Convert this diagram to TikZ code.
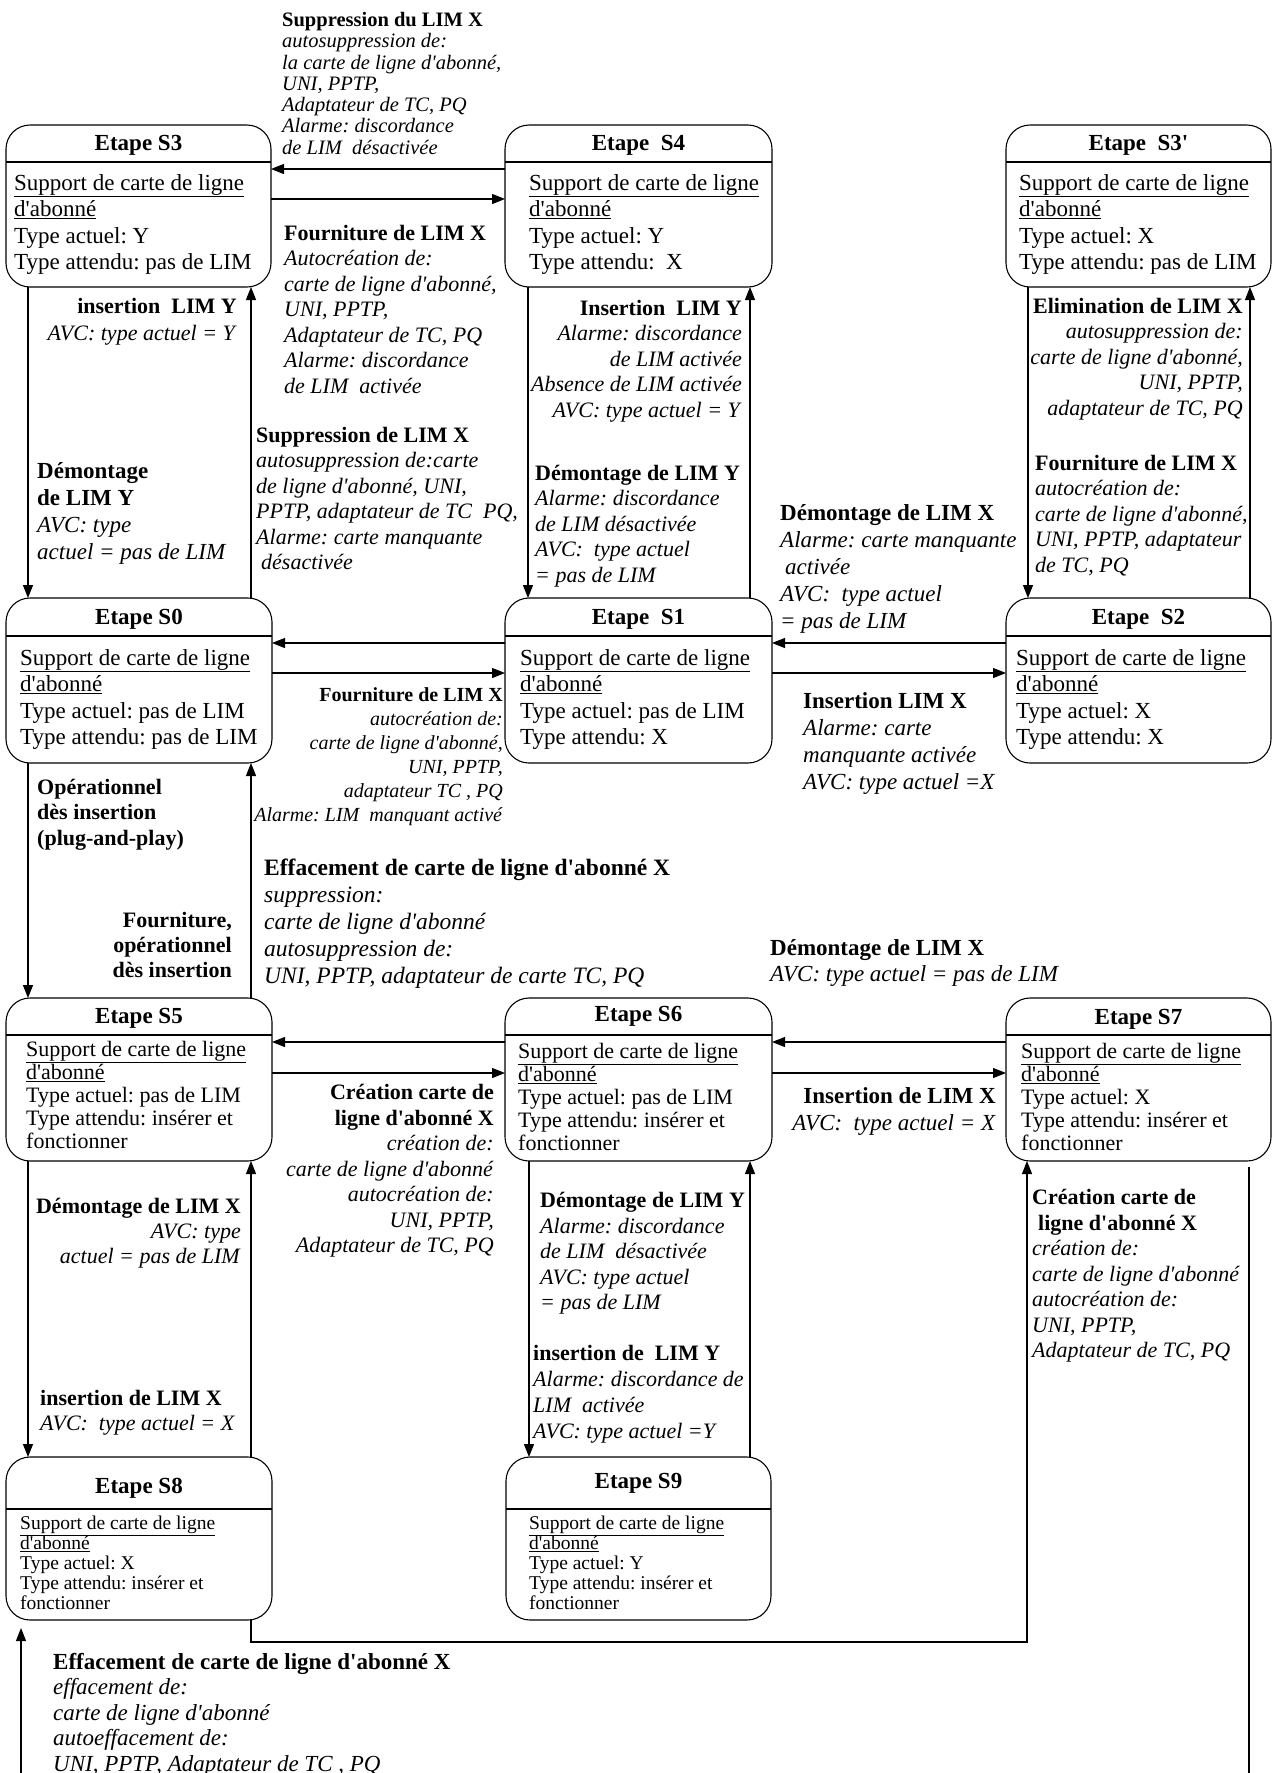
\documentclass[tikz,border=0pt]{standalone}
\usepackage{fontspec}
\setmainfont{Liberation Serif}[Ligatures=TeXOff]
\usetikzlibrary{arrows.meta}
\frenchspacing

\tikzset{
  statebox/.style={draw, line width=1.1pt, rounded corners=24pt, inner sep=0pt, outer sep=0pt, anchor=north west},
  head/.style={font=\fontsize{23}{26}\selectfont\bfseries, inner sep=0pt},
  body/.style={font=\fontsize{23}{26.5}\selectfont, align=left, anchor=north west, inner sep=0pt},
  bodymid/.style={body, font=\fontsize{22}{23}\selectfont},
  bodysmall/.style={body, font=\fontsize{19.5}{20}\selectfont},
  lbl/.style={inner sep=0pt, font=\fontsize{22}{25.5}\selectfont},
  lblL/.style={lbl, align=left, anchor=north west},
  lblR/.style={lbl, align=right, anchor=north east},
  arr/.style={-{Triangle[length=13pt,width=10pt]}, line width=1.1pt},
  wire/.style={line width=1.1pt},
}
\newcommand{\carte}{\underline{Support de carte de ligne}\\\underline{d'abonné}}

\begin{document}
\begin{tikzpicture}[x=1pt, y=-1pt]
\fill[white] (0,0) rectangle (1273,1773);
\useasboundingbox (0,0) rectangle (1273,1773);

% ---------- states ----------
\node[statebox, minimum width=265pt, minimum height=162pt] (s3)  at (6,125) {};
\node[statebox, minimum width=267pt, minimum height=162pt] (s4)  at (505,125) {};
\node[statebox, minimum width=265pt, minimum height=162pt] (s3p) at (1006,125) {};
\node[statebox, minimum width=266pt, minimum height=165pt] (s0)  at (6,598) {};
\node[statebox, minimum width=267pt, minimum height=165pt] (s1)  at (505,598) {};
\node[statebox, minimum width=265pt, minimum height=165pt] (s2)  at (1006,598) {};
\node[statebox, minimum width=266pt, minimum height=163pt] (s5)  at (6,998) {};
\node[statebox, minimum width=267pt, minimum height=163pt] (s6)  at (505,998) {};
\node[statebox, minimum width=265pt, minimum height=163pt] (s7)  at (1006,998) {};
\node[statebox, minimum width=266pt, minimum height=163pt] (s8)  at (6,1457) {};
\node[statebox, minimum width=265pt, minimum height=163pt] (s9)  at (506,1457) {};

% header dividers
\foreach \n/\y in {s3/162, s4/162, s3p/162, s0/636, s1/636, s2/636, s5/1035, s6/1035, s7/1035, s8/1509, s9/1509}
  \draw[wire] (\n.west |- 0,\y) -- (\n.east |- 0,\y);

% headers
\node[head] (h3)  at (138.5,145) {Etape S3};
\node[head] (h4)  at (638.5,145) {Etape~~S4};
\node[head] (h3p) at (1138.5,145) {Etape~~S3'};
\node[head] (h0)  at (139,619) {Etape S0};
\node[head] (h1)  at (638.5,619) {Etape~~S1};
\node[head] (h2)  at (1138.5,619) {Etape~~S2};
\node[head] (h5)  at (139,1018) {Etape S5};
\node[head] (h6)  at (638.5,1016) {Etape S6};
\node[head] (h7)  at (1138.5,1019) {Etape S7};
\node[head] (h8)  at (139,1488) {Etape S8};
\node[head] (h9)  at (638.5,1483) {Etape S9};

% bodies
\node[body] (b3)  at (14,174)   {\carte\\Type actuel: Y\\Type attendu: pas de LIM};
\node[body] (b4)  at (529,174)  {\carte\\Type actuel: Y\\Type attendu:~~X};
\node[body] (b3p) at (1019,174) {\carte\\Type actuel: X\\Type attendu: pas de LIM};
\node[body] (b0)  at (20,649)   {\carte\\Type actuel: pas de LIM\\Type attendu: pas de LIM};
\node[body] (b1)  at (520,649)  {\carte\\Type actuel: pas de LIM\\Type attendu: X};
\node[body] (b2)  at (1016,649) {\carte\\Type actuel: X\\Type attendu: X};
\node[bodymid] (b5) at (26,1041)  {\carte\\Type actuel: pas de LIM\\Type attendu: insérer et\\fonctionner};
\node[bodymid] (b6) at (518,1043) {\carte\\Type actuel: pas de LIM\\Type attendu: insérer et\\fonctionner};
\node[bodymid] (b7) at (1021,1043) {\carte\\Type actuel: X\\Type attendu: insérer et\\fonctionner};
\node[bodysmall] (b8) at (20,1516)  {\carte\\Type actuel: X\\Type attendu: insérer et\\fonctionner};
\node[bodysmall] (b9) at (529,1516) {\carte\\Type actuel: Y\\Type attendu: insérer et\\fonctionner};

% ---------- horizontal transitions ----------
\draw[arr] (s4.west |- 0,169) -- (s3.east |- 0,169);
\draw[arr] (s3.east |- 0,199) -- (s4.west |- 0,199);
\draw[arr] (s1.west |- 0,643) -- (s0.east |- 0,643);
\draw[arr] (s0.east |- 0,673) -- (s1.west |- 0,673);
\draw[arr] (s2.west |- 0,643) -- (s1.east |- 0,643);
\draw[arr] (s1.east |- 0,673) -- (s2.west |- 0,673);
\draw[arr] (s6.west |- 0,1042) -- (s5.east |- 0,1042);
\draw[arr] (s5.east |- 0,1073) -- (s6.west |- 0,1073);
\draw[arr] (s7.west |- 0,1042) -- (s6.east |- 0,1042);
\draw[arr] (s6.east |- 0,1073) -- (s7.west |- 0,1073);

% ---------- vertical transitions ----------
\draw[arr] (s3.south -| 28,0)   -- (s0.north -| 28,0);
\draw[arr] (s0.north -| 251,0)  -- (s3.south -| 251,0);
\draw[arr] (s4.south -| 528,0)  -- (s1.north -| 528,0);
\draw[arr] (s1.north -| 750,0)  -- (s4.south -| 750,0);
\draw[arr] (s3p.south -| 1028,0) -- (s2.north -| 1028,0);
\draw[arr] (s2.north -| 1250,0) -- (s3p.south -| 1250,0);
\draw[arr] (s0.south -| 28,0)   -- (s5.north -| 28,0);
\draw[arr] (s5.north -| 251,0)  -- (s0.south -| 251,0);
\draw[arr] (s5.south -| 28,0)   -- (s8.north -| 28,0);
\draw[arr] (s8.north -| 251,0)  -- (s5.south -| 251,0);
\draw[arr] (s6.south -| 529,0)  -- (s9.north -| 529,0);
\draw[arr] (s9.north -| 750,0)  -- (s6.south -| 750,0);

% S8 -> S7 round the bottom
\coordinate (c87a) at (251,1642);
\coordinate (c87b) at (1027,1642);
\draw[arr] (s8.south -| 251,0) -- (c87a) -- (c87b) -- (s7.south -| 1027,0);

% links leaving and entering the page
\coordinate (s7out) at (1249,1167);
\coordinate (outR)  at (1249,1773);
\draw[wire] (s7out) -- (outR);
\coordinate (inL)  at (21,1773);
\coordinate (s8in) at (21,1628);
\draw[arr] (inL) -- (s8in);

% ---------- transition labels ----------
\node[lblL, font=\fontsize{20.5}{21.3}\selectfont] (t1) at (282,12)
  {\textbf{Suppression du LIM X}\\\textit{autosuppression de:}\\\textit{la carte de ligne d'abonné,}\\\textit{UNI, PPTP,}\\\textit{Adaptateur de TC, PQ}\\\textit{Alarme: discordance}\\\textit{de LIM~~désactivée}};
\node[lblL] (t2) at (284,225)
  {\textbf{Fourniture de LIM X}\\\textit{Autocréation de:}\\\textit{carte de ligne d'abonné,}\\\textit{UNI, PPTP,}\\\textit{Adaptateur de TC, PQ}\\\textit{Alarme: discordance}\\\textit{de LIM~~activée}};
\node[lblL] (t3) at (256,427)
  {\textbf{Suppression de LIM X}\\\textit{autosuppression de:carte}\\\textit{de ligne d'abonné, UNI,}\\\textit{PPTP, adaptateur de TC~~PQ,}\\\textit{Alarme: carte manquante}\\\hspace*{5pt}\textit{désactivée}};
\node[lblR, font=\fontsize{22}{27}\selectfont] (t4) at (237,298)
  {\textbf{insertion~~LIM Y}\\\textit{AVC: type actuel = Y}};
\node[lblL, font=\fontsize{23}{27}\selectfont] (t5) at (37,462)
  {\textbf{Démontage}\\\textbf{de LIM Y}\\\textit{AVC: type}\\\textit{actuel = pas de LIM}};
\node[lblR] (t6) at (742,300)
  {\textbf{Insertion~~LIM Y}\\\textit{Alarme: discordance}\\\textit{de LIM activée}\\\textit{Absence de LIM activée}\\\textit{AVC: type actuel = Y}};
\node[lblL] (t7) at (535,465)
  {\textbf{Démontage de LIM Y}\\\textit{Alarme: discordance}\\\textit{de LIM désactivée}\\\textit{AVC:~~type actuel}\\\textit{= pas de LIM}};
\node[lblL, font=\fontsize{23}{27}\selectfont] (t8) at (780,504)
  {\textbf{Démontage de LIM X}\\\textit{Alarme: carte manquante}\\\hspace*{5pt}\textit{activée}\\\textit{AVC:~~type actuel}\\\textit{= pas de LIM}};
\node[lblR] (t9) at (1243,298)
  {\textbf{Elimination de LIM X}\\\textit{autosuppression de:}\\\textit{carte de ligne d'abonné,}\\\textit{UNI, PPTP,}\\\textit{adaptateur de TC, PQ}};
\node[lblL] (t10) at (1035,455)
  {\textbf{Fourniture de LIM X}\\\textit{autocréation de:}\\\textit{carte de ligne d'abonné,}\\\textit{UNI, PPTP, adaptateur}\\\textit{de TC, PQ}};
\node[lblR, font=\fontsize{20}{24}\selectfont] (t11) at (503,687)
  {\textbf{Fourniture de LIM X}\\\textit{autocréation de:}\\\textit{carte de ligne d'abonné,}\\\textit{UNI, PPTP,}\\\textit{adaptateur TC , PQ}\\\textit{Alarme: LIM~~manquant activé}};
\node[lblL, font=\fontsize{23}{27}\selectfont] (t12) at (803,692)
  {\textbf{Insertion LIM X}\\\textit{Alarme: carte}\\\textit{manquante activée}\\\textit{AVC: type actuel =X}};
\node[lblL] (t13) at (37,779)
  {\textbf{Opérationnel}\\\textbf{dès insertion}\\\textbf{(plug-and-play)}};
\node[lblR, font=\fontsize{22}{25}\selectfont] (t14) at (232,912)
  {\textbf{Fourniture,}\\\textbf{opérationnel}\\\textbf{dès insertion}};
\node[lblL, font=\fontsize{23.5}{27}\selectfont] (t15) at (264,859)
  {\textbf{Effacement de carte de ligne d'abonné X}\\\textit{suppression:}\\\textit{carte de ligne d'abonné}\\\textit{autosuppression de:}\\\textit{UNI, PPTP, adaptateur de carte TC, PQ}};
\node[lblL, font=\fontsize{23}{26}\selectfont] (t16) at (770,939)
  {\textbf{Démontage de LIM X}\\\textit{AVC: type actuel = pas de LIM}};
\node[lblR] (t17) at (494,1084)
  {\textbf{Création carte de}\\\textbf{ligne d'abonné X}\\\textit{création de:}\\\textit{carte de ligne d'abonné}\\\textit{autocréation de:}\\\textit{UNI, PPTP,}\\\textit{Adaptateur de TC, PQ}};
\node[lblR, font=\fontsize{23}{27}\selectfont] (t18) at (996,1087)
  {\textbf{Insertion de LIM X}\\\textit{AVC:~~type actuel = X}};
\node[lblR, font=\fontsize{22}{25}\selectfont] (t19) at (241,1198)
  {\textbf{Démontage de LIM X}\\\textit{AVC: type}\\\textit{actuel = pas de LIM}};
\node[lblL, font=\fontsize{22}{25}\selectfont] (t20) at (40,1390)
  {\textbf{insertion de LIM X}\\\textit{AVC:~~type actuel = X}};
\node[lblL] (t21) at (540,1192)
  {\textbf{Démontage de LIM Y}\\\textit{Alarme: discordance}\\\textit{de LIM~~désactivée}\\\textit{AVC: type actuel}\\\textit{= pas de LIM}};
\node[lblL, font=\fontsize{22}{26}\selectfont] (t22) at (533,1345)
  {\textbf{insertion de~~LIM Y}\\\textit{Alarme: discordance de}\\\textit{LIM~~activée}\\\textit{AVC: type actuel =Y}};
\node[lblL] (t23) at (1032,1189)
  {\textbf{Création carte de}\\\hspace*{6pt}\textbf{ligne d'abonné X}\\\textit{création de:}\\\textit{carte de ligne d'abonné}\\\textit{autocréation de:}\\\textit{UNI, PPTP,}\\\textit{Adaptateur de TC, PQ}};
\node[lblL, font=\fontsize{23}{25.5}\selectfont] (t24) at (53,1653)
  {\textbf{Effacement de carte de ligne d'abonné X}\\\textit{effacement de:}\\\textit{carte de ligne d'abonné}\\\textit{autoeffacement de:}\\\textit{UNI, PPTP, Adaptateur de TC , PQ}};
\end{tikzpicture}
\end{document}
